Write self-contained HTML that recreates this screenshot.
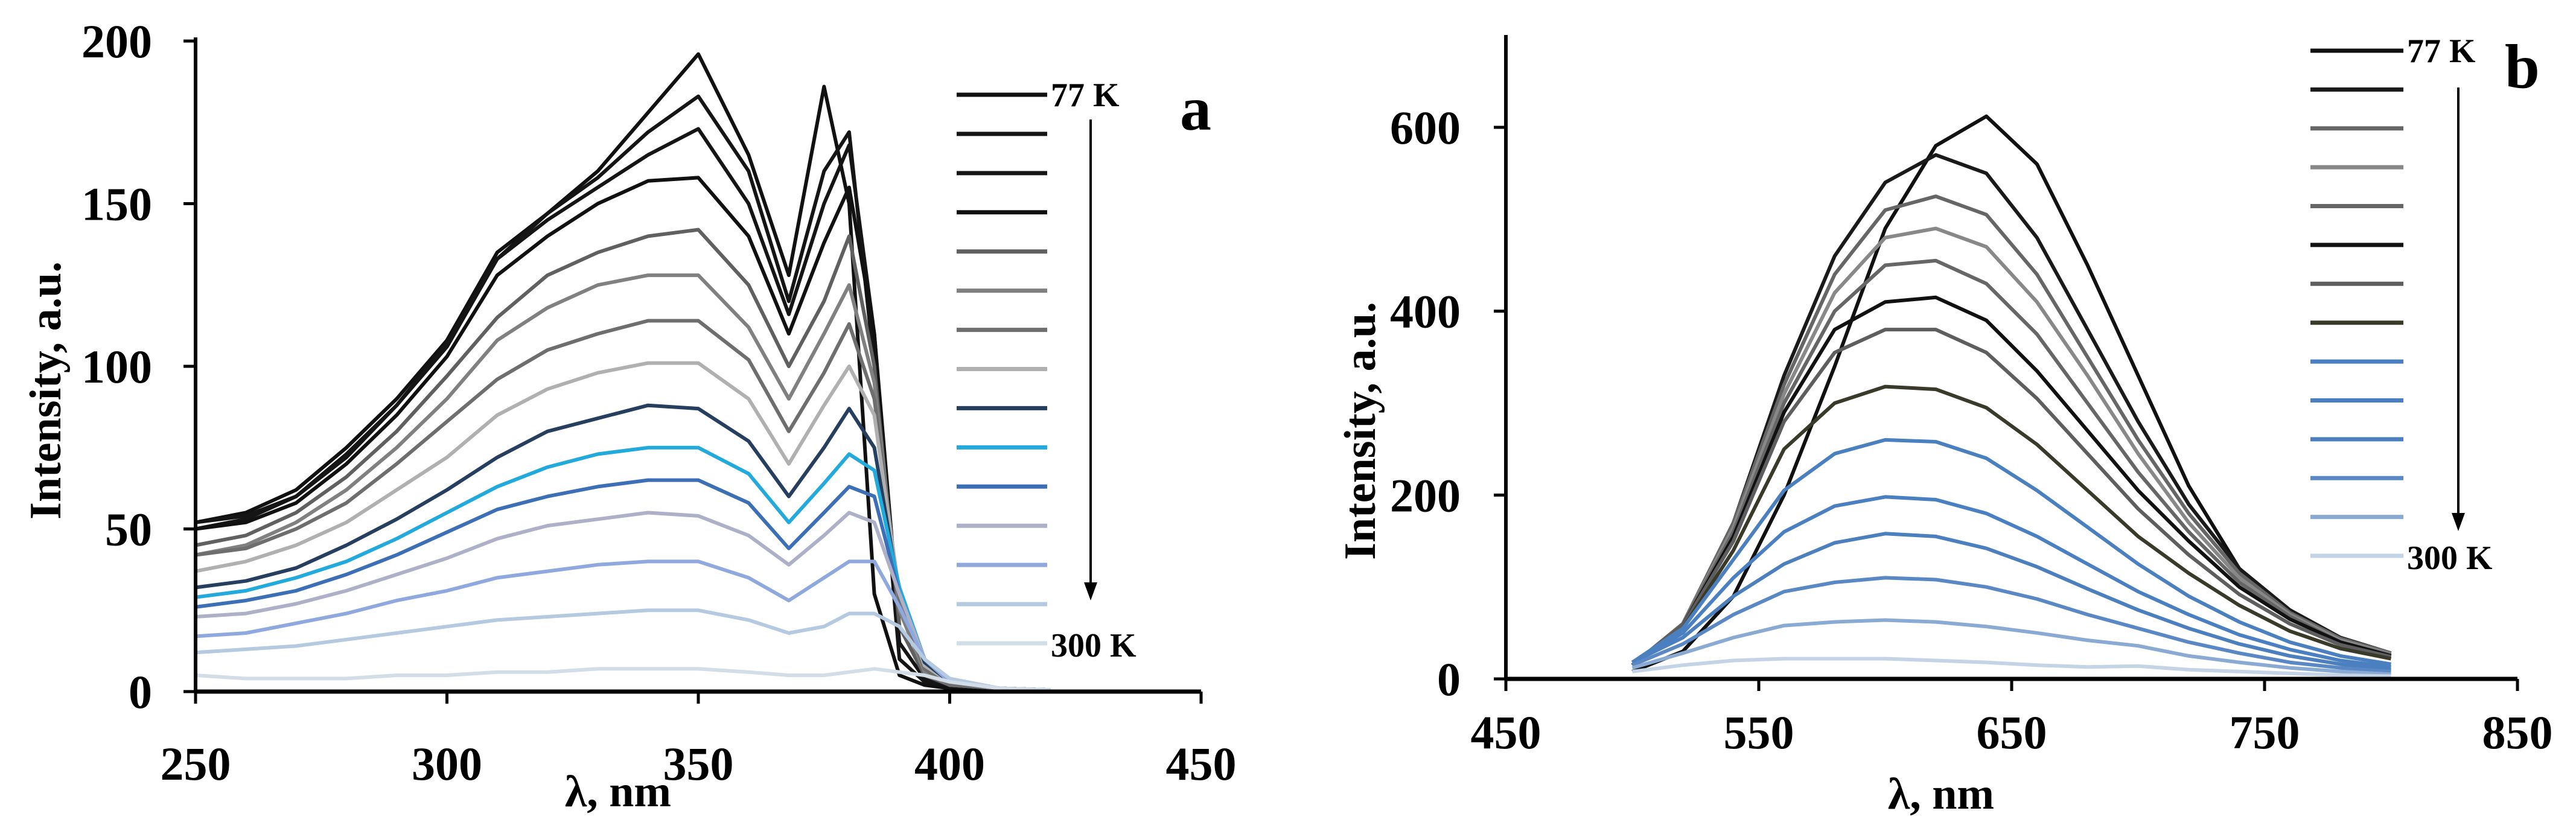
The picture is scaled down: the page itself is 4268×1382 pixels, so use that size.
<!DOCTYPE html>
<html><head><meta charset="utf-8"><style>
html,body{margin:0;padding:0;background:#fff;}
svg{display:block;font-family:"Liberation Serif",serif;font-weight:bold;}
</style></head><body>
<svg id="chart" width="4268" height="1382" viewBox="0 0 4268 1382" xmlns="http://www.w3.org/2000/svg">
<rect width="4268" height="1382" fill="#fff"/>
<g id="pa"></g>
<g id="pb"></g>
</svg>
<script>
// ---- Panel a data ----
const aWavelengths = [250,260,270,280,290,300,310,320,330,340,350,360,368,375,380,385,390,395,400,410,420];
const aSeries = [
[52,55,62,75,90,108,135,147,160,178,196,165,128,186,150,30,5,2,1,1,0.5],
[52,54,60,73,88,107,133,147,158,172,183,160,120,160,172,100,10,3,2,1,0.5],
[50,53,60,72,88,106,133,145,155,165,173,150,116,150,168,110,15,4,2,1,0.5],
[50,52,58,70,85,103,128,140,150,157,158,140,110,138,155,110,20,5,2,1,0.5],
[45,48,55,66,80,97,115,128,135,140,142,125,100,120,140,100,20,5,2,1,0.5],
[42,45,52,62,75,90,108,118,125,128,128,112,90,110,125,95,25,6,2,1,0.5],
[42,44,50,58,70,83,96,105,110,114,114,102,80,98,113,90,28,7,2,1,0.5],
[37,40,45,52,62,72,85,93,98,101,101,90,70,88,100,85,30,8,3,1,0.5],
[32,34,38,45,53,62,72,80,84,88,87,77,60,75,87,75,30,9,3,1,0.5],
[29,31,35,40,47,55,63,69,73,75,75,67,52,64,73,68,32,10,3,1,0.5],
[26,28,31,36,42,49,56,60,63,65,65,58,44,55,63,60,30,10,3,1,0.5],
[23,24,27,31,36,41,47,51,53,55,54,48,39,48,55,52,30,10,3,1,0.5],
[17,18,21,24,28,31,35,37,39,40,40,35,28,35,40,40,26,10,3,1,0.5],
[12,13,14,16,18,20,22,23,24,25,25,22,18,20,24,24,20,10,4,1,0.5],
[5,4,4,4,5,5,6,6,7,7,7,6,5,5,6,7,6,5,3,1,0.5]
];
const aColors = ["#111","#151515","#151515","#111","#606060","#808080","#6e6e6e","#b0b0b0","#263f5e","#22aadd","#3c6fb5","#aeb0c8","#8fa8de","#b5c9e0","#d3dde8"];
const aXTicks = [250,300,350,400,450];
const aYTicks = [0,50,100,150,200];
// ---- Panel b data ----
const bWavelengths = [500,520,540,560,580,600,620,640,660,680,700,720,740,760,780,800];
const bSeries = [
[8,30,90,200,340,490,580,612,560,450,330,210,120,70,40,25],
[15,60,170,330,460,540,570,550,480,380,280,190,120,75,45,28],
[15,60,170,320,440,510,525,505,440,350,260,180,115,72,44,28],
[15,60,165,310,420,480,490,470,410,330,245,170,110,70,42,27],
[15,60,160,300,400,450,455,430,375,300,225,160,105,68,40,26],
[15,58,155,290,380,410,415,390,335,270,205,150,100,65,40,25],
[15,58,150,280,355,380,380,355,305,245,185,135,92,60,37,24],
[15,55,140,250,300,318,315,295,255,205,155,115,80,52,33,22],
[18,55,130,205,245,260,258,240,205,165,125,90,62,40,25,16],
[18,50,110,160,188,198,195,180,155,125,95,70,48,32,20,13],
[18,45,90,125,148,158,155,142,122,98,75,55,38,25,16,10],
[15,38,70,95,105,110,108,100,87,70,55,40,28,18,12,8],
[12,28,45,58,62,64,62,57,50,42,36,25,18,12,8,5],
[8,15,20,22,22,22,20,18,15,13,14,10,8,6,4,3]
];
const bColors = ["#111","#1a1a1a","#666","#888","#666","#111","#5e5e5e","#3a3a2a","#4a7fc0","#4a80c2","#4c7fbe","#5a88c4","#8aaad4","#c5d3e6"];
const bXTicks = [450,550,650,750,850];
const bYTicks = [0,200,400,600];

const NS="http://www.w3.org/2000/svg";
function mk(parent,tag,attrs){const e=document.createElementNS(NS,tag);for(const k in attrs)e.setAttribute(k,attrs[k]);parent.appendChild(e);return e;}

function panel(g,cfg){
  const sx=v=>cfg.x0+(v-cfg.xmin)/(cfg.xmax-cfg.xmin)*(cfg.x1-cfg.x0);
  const sy=v=>cfg.y0-(v-cfg.ymin)/(cfg.ymax-cfg.ymin)*(cfg.y0-cfg.y1);
  cfg.series.forEach((s,i)=>{
    const d=s.map((v,j)=>(j?"L":"M")+sx(cfg.xs[j]).toFixed(1)+" "+sy(v).toFixed(1)).join(" ");
    const p=mk(g,"path",{d:d,fill:"none",stroke:cfg.colors[i],"stroke-width":6,"stroke-linejoin":"round"});
    
    
  });
  const ax=mk(g,"line",{x1:cfg.x0,y1:cfg.y0,x2:cfg.x1,y2:cfg.y0,stroke:"#000","stroke-width":7});
  
  
  const ay=mk(g,"line",{x1:cfg.x0,y1:cfg.y0,x2:cfg.x0,y2:cfg.ytop,stroke:"#000","stroke-width":6});
  
  
  cfg.xt.forEach(v=>{
    const t=mk(g,"line",{x1:sx(v),y1:cfg.y0,x2:sx(v),y2:cfg.y0+20,stroke:"#000","stroke-width":5});
    
    
    const l=mk(g,"text",{x:sx(v),y:cfg.xly,"text-anchor":"middle","font-size":78});
    l.textContent=v;
    
    
  });
  cfg.yt.forEach(v=>{
    const t=mk(g,"line",{x1:cfg.x0-20,y1:sy(v),x2:cfg.x0,y2:sy(v),stroke:"#000","stroke-width":5});
    
    
    const l=mk(g,"text",{x:cfg.ylx,y:sy(v)+27,"text-anchor":"end","font-size":78});
    l.textContent=v;
    
    
  });
  const xt=mk(g,"text",{x:cfg.xtx,y:cfg.xty,"text-anchor":"middle","font-size":74});
  xt.textContent="λ, nm";
  
  
  const yt=mk(g,"text",{x:0,y:0,"text-anchor":"middle","font-size":74,transform:`translate(${cfg.ytx},${cfg.yty}) rotate(-90)`});
  yt.textContent="Intensity, a.u.";
  
  
  const n=cfg.colors.length;
  cfg.colors.forEach((c,i)=>{
    const y=cfg.ly0+i*(cfg.ly1-cfg.ly0)/(n-1);
    const le=mk(g,"line",{x1:cfg.lx0,y1:y,x2:cfg.lx1,y2:y,stroke:c,"stroke-width":7});
    
    
  });
  const t1=mk(g,"text",{x:cfg.lx1+6,y:cfg.ly0+19,"font-size":56});
  t1.textContent="77 K";
  
  
  const t2=mk(g,"text",{x:cfg.lx1+6,y:cfg.ly1+22,"font-size":56});
  t2.textContent="300 K";
  
  
  const ar=mk(g,"line",{x1:cfg.arx,y1:cfg.ary0,x2:cfg.arx,y2:cfg.ary1-20,stroke:"#000","stroke-width":4});
  
  
  const ah=mk(g,"path",{d:`M${cfg.arx-11} ${cfg.ary1-30} L${cfg.arx} ${cfg.ary1} L${cfg.arx+11} ${cfg.ary1-30} Z`,fill:"#000"});
  
  
  const pl=mk(g,"text",{x:cfg.plx,y:cfg.ply,"font-size":104});
  pl.textContent=cfg.label;
  
  
}

panel(document.getElementById('pa'),{
  xs:aWavelengths,series:aSeries,colors:aColors,xt:aXTicks,yt:aYTicks,
  xmin:250,xmax:450,ymin:0,ymax:200,x0:324,x1:1990,y0:1146,y1:68,ytop:62,
  xly:1292,ylx:252,xtx:1024,xty:1336,ytx:100,yty:647,
  lx0:1585,lx1:1735,ly0:157,ly1:1066,arx:1807,ary0:198,ary1:995,
  plx:1955,ply:215,label:"a"
});
panel(document.getElementById('pb'),{
  xs:bWavelengths,series:bSeries,colors:bColors,xt:bXTicks,yt:bYTicks,
  xmin:450,xmax:850,ymin:0,ymax:600,x0:2495,x1:4171,y0:1125,y1:211,ytop:58,
  xly:1240,ylx:2420,xtx:3216,xty:1340,ytx:2278,yty:714,
  lx0:3828,lx1:3982,ly0:84,ly1:921,arx:4073,ary0:145,ary1:880,
  plx:4150,ply:145,label:"b"
});
</script>
</body></html>
